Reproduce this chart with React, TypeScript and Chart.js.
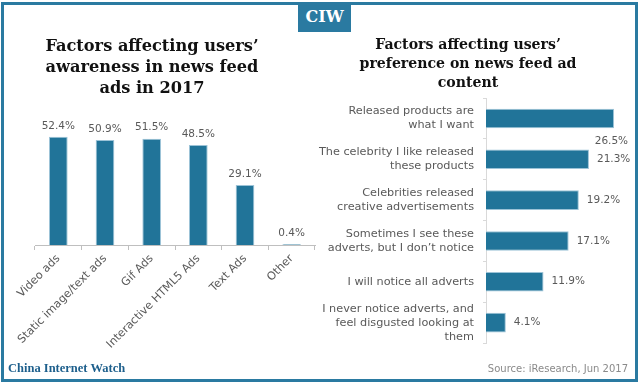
import React, { useEffect, useRef } from 'react';
import { Chart, registerables } from 'chart.js';

Chart.register(...registerables);

const awarenessTitle = ['Factors affecting users’', 'awareness in news feed', 'ads in 2017'];
const awarenessCategories = ['Video ads', 'Static image/text ads', 'Gif Ads', 'Interactive HTML5 Ads', 'Text Ads', 'Other'];
const awarenessValues = [52.4, 50.9, 51.5, 48.5, 29.1, 0.4];

const preferenceTitle = ['Factors affecting users’', 'preference on news feed ad', 'content'];
const preferenceCategories = [
  ['Released products are', 'what I want'],
  ['The celebrity I like released', 'these products'],
  ['Celebrities released', 'creative advertisements'],
  ['Sometimes I see these', 'adverts, but I don’t notice'],
  ['I will notice all adverts'],
  ['I never notice adverts, and', 'feel disgusted looking at', 'them'],
];
const preferenceValues = [26.5, 21.3, 19.2, 17.1, 11.9, 4.1];

const BAR = '#217499';
const BAR_EDGE = '#9cc3d7';
const FRAME = '#2a7aa1';
const GRAY = '#595959';

const valueLabels = {
  id: 'valueLabels',
  afterDatasetsDraw(chart: any) {
    const ctx = chart.ctx;
    const meta = chart.getDatasetMeta(0);
    const data = chart.data.datasets[0].data as number[];
    const horizontal = chart.options.indexAxis === 'y';
    ctx.save();
    ctx.font = '10.5px "DejaVu Sans"';
    ctx.fillStyle = GRAY;
    meta.data.forEach((bar: any, i: number) => {
      const text = data[i].toFixed(1) + '%';
      if (horizontal) {
        const w = ctx.measureText(text).width;
        ctx.textBaseline = 'middle';
        if (bar.x + 8 + w > chart.width) {
          ctx.textAlign = 'right';
          ctx.fillText(text, bar.x + 14, bar.y + bar.height / 2 + 13);
        } else {
          ctx.textAlign = 'left';
          ctx.fillText(text, bar.x + 8, bar.y);
        }
      } else {
        ctx.textAlign = 'center';
        ctx.textBaseline = 'middle';
        ctx.fillText(text, bar.x, bar.y - 11);
      }
    });
    ctx.restore();
  },
};

export default function App() {
  const leftRef = useRef<HTMLCanvasElement>(null);
  const rightRef = useRef<HTMLCanvasElement>(null);

  useEffect(() => {
    const left = new Chart(leftRef.current!, {
      type: 'bar',
      data: {
        labels: awarenessCategories,
        datasets: [
          {
            data: awarenessValues,
            backgroundColor: BAR,
            borderColor: BAR_EDGE,
            borderWidth: 1,
            barPercentage: 0.4,
            categoryPercentage: 1,
          },
        ],
      },
      options: {
        animation: false,
        responsive: false,
        layout: { padding: { left: 0, right: 4, top: 0, bottom: 0 } },
        plugins: {
          legend: { display: false },
          tooltip: { enabled: false },
          title: {
            display: true,
            text: awarenessTitle,
            color: '#111111',
            font: { family: 'DejaVu Serif', size: 16.2, weight: 'bold', lineHeight: 1.3 },
            padding: { top: 4, bottom: 22 },
          },
        },
        scales: {
          x: {
            grid: { display: true, offset: true, drawOnChartArea: false, drawTicks: true, tickLength: 5, color: '#bfbfbf' },
            border: { display: true, color: '#bfbfbf' },
            ticks: {
              color: GRAY,
              font: { family: 'DejaVu Sans', size: 11.25 },
              minRotation: 45,
              maxRotation: 45,
              padding: 2,
              autoSkip: false,
            },
            afterFit(s: any) {
              s.height = 127;
            },
          },
          y: {
            min: 0,
            max: 60,
            display: true,
            grid: { display: false },
            border: { display: false },
            ticks: { display: false },
            afterFit(s: any) {
              s.width = 46;
            },
          },
        },
      },
      plugins: [valueLabels],
    } as any);

    const right = new Chart(rightRef.current!, {
      type: 'bar',
      data: {
        labels: preferenceCategories,
        datasets: [
          {
            data: preferenceValues,
            backgroundColor: BAR,
            borderColor: BAR_EDGE,
            borderWidth: 1,
            barPercentage: 0.48,
            categoryPercentage: 1,
          },
        ],
      },
      options: {
        indexAxis: 'y',
        animation: false,
        responsive: false,
        layout: { padding: { left: 0, right: 5, top: 0, bottom: 5 } },
        plugins: {
          legend: { display: false },
          tooltip: { enabled: false },
          title: {
            display: true,
            text: preferenceTitle,
            color: '#111111',
            font: { family: 'DejaVu Serif', size: 14.1, weight: 'bold', lineHeight: 1.348 },
            padding: { top: 3.5, bottom: 5.5 },
          },
        },
        scales: {
          x: { min: 0, max: 30, display: false },
          y: {
            grid: { display: true, offset: true, drawOnChartArea: false, drawTicks: true, tickLength: 3, color: '#d9d9d9' },
            border: { display: true, color: '#d9d9d9' },
            ticks: {
              color: GRAY,
              font: { family: 'DejaVu Sans', size: 11.25, lineHeight: 1.245 },
              padding: 9,
              crossAlign: 'near',
              autoSkip: false,
            },
            afterFit(s: any) {
              s.width = 181;
              s.paddingTop = 0;
              s.paddingBottom = 0;
            },
          },
        },
      },
      plugins: [valueLabels],
    } as any);

    return () => {
      left.destroy();
      right.destroy();
    };
  }, []);

  return (
    <div
      style={{
        position: 'fixed',
        left: 0,
        top: 0,
        width: 640,
        height: 384,
        background: '#ffffff',
        overflow: 'hidden',
      }}
    >
      <div
        style={{
          position: 'absolute',
          left: 1,
          top: 2,
          width: 637,
          height: 380,
          boxSizing: 'border-box',
          border: `3px solid ${FRAME}`,
        }}
      />
      <canvas
        ref={leftRef}
        width={330}
        height={340}
        style={{ position: 'absolute', left: -11, top: 32, width: 330, height: 340 }}
      />
      <canvas
        ref={rightRef}
        width={331}
        height={316}
        style={{ position: 'absolute', left: 305, top: 32, width: 331, height: 316 }}
      />
      <div
        style={{
          position: 'absolute',
          left: 298,
          top: 2,
          width: 53,
          height: 30,
          background: FRAME,
          color: '#ffffff',
          fontFamily: '"DejaVu Serif"',
          fontWeight: 'bold',
          fontSize: 16,
          lineHeight: '30px',
          textAlign: 'center',
        }}
      >
        CIW
      </div>
      <div
        style={{
          position: 'absolute',
          left: 8,
          top: 361,
          fontFamily: '"Liberation Serif"',
          fontWeight: 'bold',
          fontSize: 12.5,
          lineHeight: '14px',
          color: '#1d5f8c',
          whiteSpace: 'nowrap',
        }}
      >
        China Internet Watch
      </div>
      <div
        style={{
          position: 'absolute',
          right: 12,
          top: 362,
          fontFamily: '"DejaVu Sans"',
          fontSize: 10,
          lineHeight: '14px',
          color: '#8a8a8a',
          whiteSpace: 'nowrap',
        }}
      >
        Source: iResearch, Jun 2017
      </div>
    </div>
  );
}
